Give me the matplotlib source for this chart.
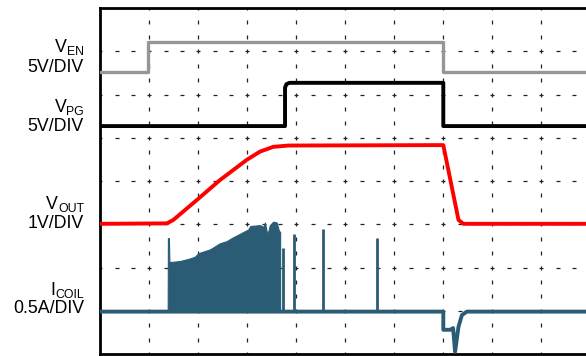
"""
Scope capture: enable / power-good / output voltage / coil current at start-up and shut-down.
Saves out.png.
"""

import numpy as np
import matplotlib

matplotlib.use("Agg")
import matplotlib.pyplot as plt

plt.rcParams["font.family"] = ["Liberation Sans", "DejaVu Sans"]

# all traces in scope divisions: time 0..10 div, level 0..8 div (bottom = 0)
ven_t = [0, 0.98, 0.98, 7.0, 7.0, 10.2]
ven_v = [6.52, 6.52, 7.21, 7.21, 6.52, 6.52]

vpg_t = [0, 3.77, 3.77, 3.80, 3.86, 7.0, 7.0, 10.2]
vpg_v = [5.27, 5.27, 6.16, 6.24, 6.27, 6.27, 5.27, 5.27]

vout_t = [0, 1.36, 1.49, 1.97, 2.44, 2.99, 3.26, 3.53, 3.84, 7.0, 7.31, 7.41, 10.2]
vout_v = [3.01, 3.02, 3.10, 3.56, 4.02, 4.49, 4.68, 4.79, 4.82, 4.83, 3.10, 3.01, 3.01]

icoil_base = 0.98
# envelope of the switching burst during soft-start
burst_t = [1.375, 1.38, 1.40, 1.41, 1.46, 1.63, 1.83, 1.93, 2.0, 2.24, 2.44, 2.58,
           2.68, 2.85, 3.02, 3.06, 3.26, 3.33, 3.36, 3.41, 3.46, 3.53, 3.60, 3.65, 3.67]
burst_v = [0.98, 2.68, 2.68, 2.13, 2.13, 2.15, 2.21, 2.25, 2.33, 2.42, 2.56, 2.61,
           2.68, 2.78, 2.88, 2.96, 2.98, 2.94, 3.04, 2.75, 2.98, 3.06, 3.04, 2.83, 2.83]
# isolated pulses after the burst
pulse_t = [3.72, 3.96, 4.55, 5.64]
pulse_v = [2.44, 2.77, 2.89, 2.69]
# negative excursion at shut-down
dip_t = [0, 7.0, 7.0, 7.14, 7.20, 7.24, 7.31, 7.38, 7.48, 10.2]
dip_v = [0.98, 0.98, 0.56, 0.56, 0.60, 0.05, 0.63, 0.90, 0.98, 0.98]

# (symbol, subscript, scale, symbol baseline px, scale baseline px)
labels = [
    ("V", "EN", "5V/DIV", 52, 72),
    ("V", "PG", "5V/DIV", 112, 131),
    ("V", "OUT", "1V/DIV", 209, 228),
    ("I", "COIL", "0.5A/DIV", 295, 313),
]

GRAY = "#969696"
RED = "#ff0000"
TEAL = "#2b5c75"
W, H = 586, 356
RIGHT = 84


def main() -> None:
    fig = plt.figure(figsize=(W / 100, H / 100), dpi=100)
    ax = fig.add_axes([100.3 / W, 2 / H, 490 / W, 346 / H])
    ax.set_xlim(0, 10)
    ax.set_ylim(0, 8)
    ax.set_xticks([])
    ax.set_yticks([])
    for side in ("left", "top", "bottom"):
        ax.spines[side].set_linewidth(2.0)
    ax.spines["right"].set_visible(False)

    # dashed graticule: short dashes every third of a division
    ms = 3.3
    xs = np.arange(0, 10.01, 1 / 3)
    ys = np.arange(0, 8.01, 1 / 3)
    for gy in range(1, 8):
        ax.plot(xs, np.full_like(xs, gy), ls="none", marker="_", ms=ms,
                mew=0.9, color="#222222", zorder=1)
    for gx in range(1, 10):
        ax.plot(np.full_like(ys, gx), ys, ls="none", marker="|", ms=ms,
                mew=0.9, color="#222222", zorder=1)

    ax.plot(ven_t, ven_v, color=GRAY, lw=2.4, zorder=3)
    ax.plot(vpg_t, vpg_v, color="black", lw=2.8, zorder=3)
    ax.plot(vout_t, vout_v, color=RED, lw=2.8, zorder=3)

    ax.plot(dip_t, dip_v, color=TEAL, lw=2.8, zorder=3)
    ax.fill_between(burst_t, icoil_base, burst_v, color=TEAL, lw=0.8,
                    edgecolor=TEAL, zorder=3)
    ax.vlines(pulse_t, icoil_base, pulse_v, color=TEAL, lw=2.0, zorder=3)

    renderer = fig.canvas.get_renderer()
    for sym, sub, scale, y1, y2 in labels:
        st = fig.text(RIGHT / W, 1 - (y1 + 3.3) / H, sub, ha="right",
                      va="baseline", fontsize=8.8)
        sw = st.get_window_extent(renderer).width
        fig.text((RIGHT - sw) / W, 1 - y1 / H, sym, ha="right", va="baseline",
                 fontsize=12.8)
        fig.text(RIGHT / W, 1 - y2 / H, scale, ha="right", va="baseline",
                 fontsize=12.8)

    fig.savefig("out.png", dpi=100)
    plt.close(fig)


if __name__ == "__main__":
    main()
